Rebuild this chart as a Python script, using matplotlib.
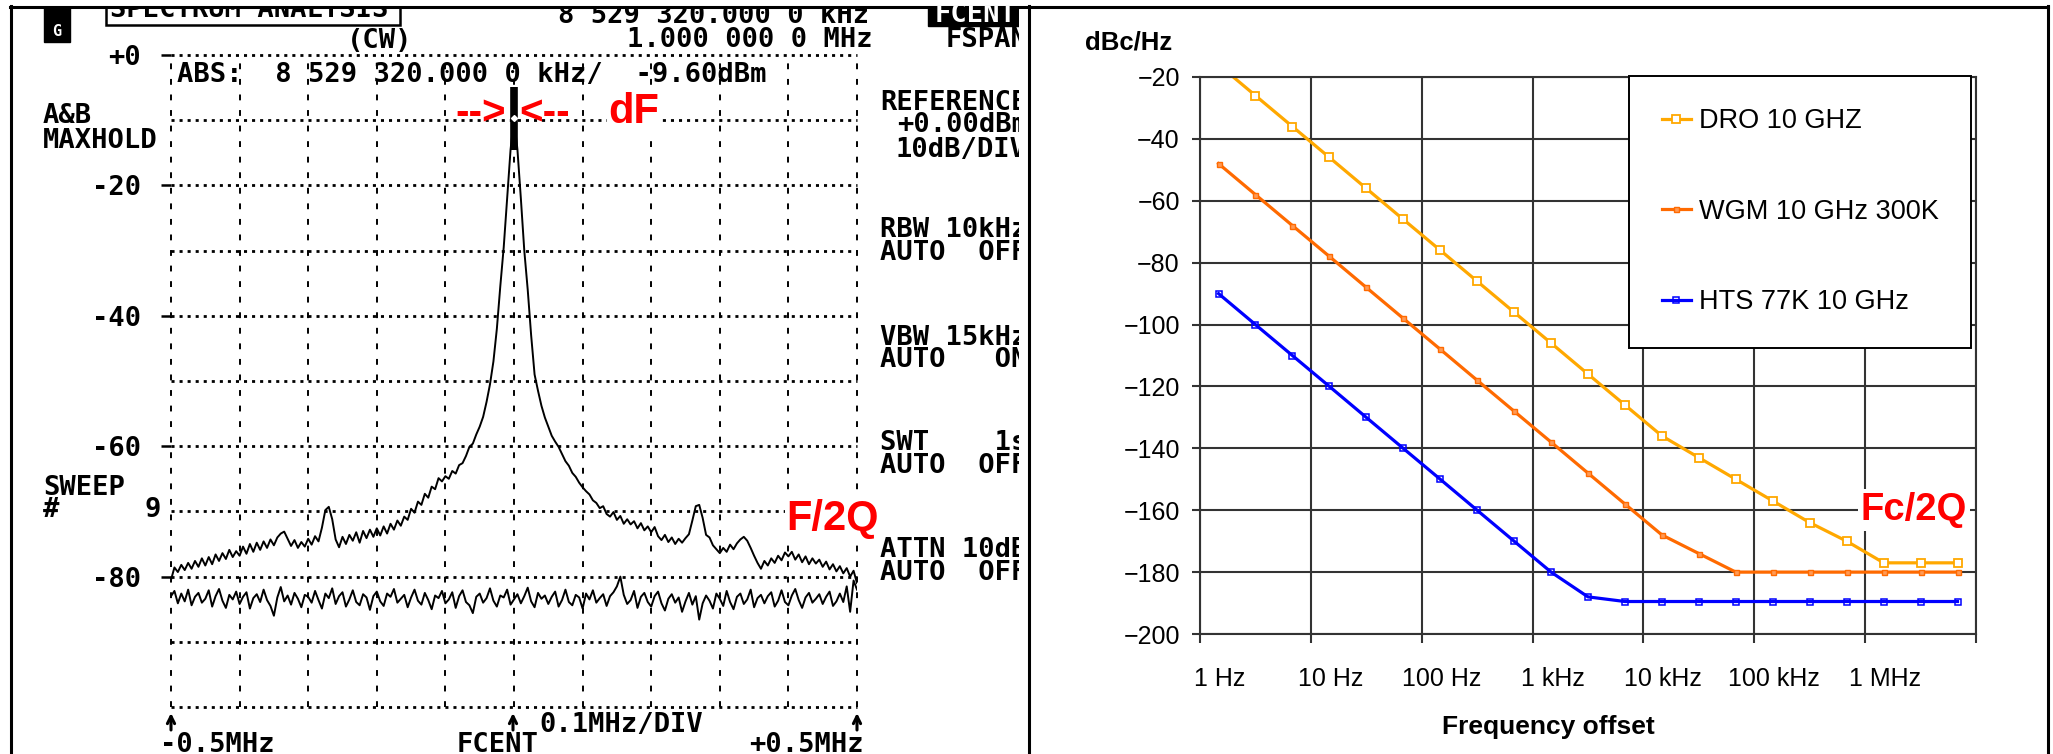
import matplotlib
matplotlib.use('Agg')
import matplotlib.pyplot as plt
import matplotlib.transforms as mtransforms
from matplotlib.lines import Line2D
from matplotlib.patches import Rectangle
from matplotlib.ticker import NullLocator
import numpy as np

W, H, DPI = 2053, 754, 100

# ---------------- left: spectrum analyser screen (5 kHz steps, -0.5 .. +0.5 MHz) ----------------
trace_ab = [
    -80.5, -78.6, -79.3, -78.2, -79.0, -77.9, -78.8, -77.6, -78.5, -77.2,
    -78.3, -77.0, -78.1, -76.6, -77.6, -76.4, -77.3, -75.9, -77.0, -76.1,
    -76.8, -75.4, -76.5, -75.0, -76.2, -74.8, -75.9, -74.6, -75.6, -74.3,
    -75.2, -74.0, -73.4, -73.1, -74.2, -75.3, -74.4, -75.6, -74.7, -75.4,
    -74.2, -75.1, -73.8, -74.6, -72.5, -69.8, -69.3, -71.2, -74.3, -75.5,
    -73.9, -75.0, -73.6, -74.5, -73.2, -74.8, -73.0, -74.1, -72.8, -73.9,
    -72.6, -73.7, -72.3, -73.4, -71.9, -72.8, -71.4, -72.2, -70.8, -71.3,
    -69.6, -70.2, -68.5, -69.0, -67.3, -67.9, -66.2, -66.6, -64.9, -65.4,
    -64.6, -65.0, -63.8, -64.2, -62.9, -62.6, -61.5, -60.1, -59.6, -58.2,
    -57.0, -55.5, -53.2, -50.5, -47.0, -42.0, -35.5, -29.5, -22.0, -14.5,
    -9.6,
    -14.5, -22.0, -30.0, -36.0, -43.0, -49.0, -51.5, -53.8, -55.6, -57.0,
    -58.4, -59.3, -60.1, -61.2, -62.3, -63.0, -64.1, -64.7, -65.6,
    -66.3, -66.9, -67.4, -68.3, -68.7, -69.5, -69.2, -70.4, -70.8, -70.1,
    -71.3, -70.7, -71.9, -71.2, -72.0, -71.5, -72.6, -71.8, -72.9, -72.3,
    -73.2, -72.4, -73.8, -74.4, -73.6, -74.7, -74.0, -75.0, -74.2, -74.8,
    -74.1, -73.5, -71.4, -69.2, -69.0, -71.0, -73.6, -74.0, -75.2, -75.8,
    -76.4, -75.6, -76.2, -75.1, -75.8, -74.9, -74.3, -73.9, -74.5, -75.6,
    -76.8, -77.9, -78.8, -77.6, -78.3, -77.2, -77.9, -76.8, -77.5, -76.3,
    -76.9, -76.2, -77.4, -76.6, -77.8, -76.9, -78.1, -77.2, -78.0, -77.4,
    -78.5, -77.7, -78.9, -78.1, -79.2, -78.4, -79.5, -78.7, -80.0, -79.1,
    -81.0,
]
trace_floor = [
    -83.0, -82.2, -84.1, -82.6, -83.8, -82.0, -84.4, -83.1, -82.5, -84.0,
    -83.4, -82.1, -84.6, -83.0, -81.9, -83.7, -84.8, -82.8, -83.5, -82.3,
    -84.2, -83.1, -82.4, -84.9, -83.3, -82.7, -83.9, -82.0, -83.6, -84.5,
    -86.0, -83.2, -81.6, -83.8, -82.9, -84.3, -82.5, -83.4, -84.7, -82.8,
    -83.1, -84.0, -82.2, -83.6, -84.9, -82.6, -83.3, -81.8, -84.2, -83.0,
    -82.4, -84.6, -83.5, -82.1, -83.9, -84.4, -82.7, -83.2, -85.1, -83.0,
    -82.3, -83.8, -84.5, -82.6, -83.1, -81.9, -84.0, -83.4, -82.8, -84.7,
    -83.2, -82.0, -83.7, -84.3, -82.5, -83.6, -85.0, -82.9, -83.3, -82.2,
    -84.1, -83.5, -82.4, -84.8, -83.0, -82.1, -83.9, -84.4, -85.6, -83.1,
    -82.6, -84.0, -83.3, -81.8, -83.7, -84.6, -82.9, -83.2, -82.0, -84.3,
    -83.5, -82.7, -84.1, -83.0, -81.7, -83.8, -84.7, -82.5, -83.4, -82.9,
    -84.2, -83.1, -82.3, -84.6, -83.6, -82.0, -83.9, -84.4, -82.8, -83.2,
    -84.9, -82.6, -83.5, -82.1, -84.0, -83.3, -82.7, -84.5, -83.0, -82.4,
    -81.5, -80.0, -82.8, -84.2, -83.6, -82.2, -84.8, -83.1, -82.5, -83.9,
    -84.6, -83.0, -82.3, -84.1, -85.2, -83.4, -82.7, -84.0, -83.2, -85.4,
    -83.8, -82.5, -84.3, -83.0, -86.6, -84.1, -82.9, -83.7, -84.9, -82.6,
    -83.4, -84.5, -82.2, -83.9, -85.0, -83.1, -82.6, -84.2, -83.5, -82.0,
    -84.7, -83.3, -82.8, -84.1, -83.0, -82.4, -84.6, -83.7, -82.1, -83.9,
    -84.4, -82.9, -81.9, -83.6, -84.8, -83.2, -82.5, -84.0, -83.4, -82.7,
    -84.2, -83.1, -82.3, -84.5, -83.8, -82.6, -83.9, -81.5, -85.4, -80.6,
    -82.0,
]
span = [-0.5, 0.5]
marker_offset = [0.0]
marker_level = [-9.60]
div_offsets = [-0.5, -0.4, -0.3, -0.2, -0.1, 0.0, 0.1, 0.2, 0.3, 0.4, 0.5]
level_grid = [0, -10, -20, -30, -40, -50, -60, -70, -80, -90, -100]
level_ticks = [0, -20, -40, -60, -80]
level_labels = ['+0', '-20', '-40', '-60', '-80']

# ---------------- right: phase noise vs offset ----------------
freq_hz = [1.47, 3.16, 6.81, 14.7, 31.6, 68.1, 147, 316, 681, 1470, 3160,
           6810, 14700, 31600, 68100, 147000, 316000, 681000, 1470000,
           3160000, 6810000]
dro = [-16, -26, -36, -46, -56, -66, -76, -86, -96, -106, -116,
       -126, -136, -143, -150, -157, -164, -170, -177, -177, -177]
wgm = [-48, -58, -68, -78, -88, -98, -108, -118, -128, -138, -148,
       -158, -168, -174, -180, -180, -180, -180, -180, -180, -180]
hts = [-90, -100, -110, -120, -130, -140, -150, -160, -170, -180, -188,
       -189.5, -189.5, -189.5, -189.5, -189.5, -189.5, -189.5, -189.5, -189.5, -189.5]
freq_ticks = [1, 10, 100, 1e3, 1e4, 1e5, 1e6, 1e7]
freq_labels = ['1 Hz', '10 Hz', '100 Hz', '1 kHz', '10 kHz', '100 kHz', '1 MHz', '']
db_ticks = list(range(-200, -19, 20))

plt.rcParams['font.family'] = ['Liberation Sans', 'DejaVu Sans']


def rect(x0, y0, x1, y1):
    return [x0 / W, 1 - y1 / H, (x1 - x0) / W, (y1 - y0) / H]


fig = plt.figure(figsize=(W / DPI, H / DPI), dpi=DPI)
fig.patch.set_facecolor('white')

MONO = dict(family='DejaVu Sans Mono', weight='bold', size=19.5)
RED = dict(family='Liberation Sans', weight='bold', color='#ff0000')

# spectrum grid + traces
sp = fig.add_axes(rect(171, 55, 857, 707))
sp.patch.set_visible(False)
sp.set_xlim(span)
sp.set_ylim(-100, 0)
for s in sp.spines.values():
    s.set_visible(False)
for v in div_offsets:
    sp.axvline(v, color='k', lw=1.4, ls=(0, (3.0, 5.0)), clip_on=False)
for lv in level_grid:
    sp.axhline(lv, color='k', lw=2.0, ls=(0, (1.1, 1.8)), clip_on=False)
sp.set_xticks([])
sp.set_yticks(level_ticks, labels=level_labels)
sp.tick_params(axis='y', length=7.5, width=1.8, pad=14, color='k')
for lbl in sp.get_yticklabels():
    lbl.set_fontfamily('DejaVu Sans Mono')
    lbl.set_fontweight('bold')
    lbl.set_fontsize(19.5)

offsets = np.linspace(span[0], span[1], len(trace_ab))
sp.plot(offsets, trace_ab, color='k', lw=1.4)
sp.plot(np.linspace(span[0], span[1], len(trace_floor)), trace_floor, color='k', lw=1.4)
sp.vlines(marker_offset, [m + 4.7 for m in marker_level], [m - 5.0 for m in marker_level],
          color='k', lw=5.5)
sp.plot(marker_offset, marker_level, ls='none', marker='D', ms=3, mfc='white', mec='white')

# text layer of the left screen, in pixel units
pan = fig.add_axes(rect(10, 6, 1019, 754))
pan.set_xlim(10, 1019)
pan.set_ylim(754, 6)
pan.axis('off')
pan.set_zorder(3)


def mono(x, y, s, **kw):
    d = dict(MONO)
    d.update(kw)
    pan.text(x, y, s, va=d.pop('va', 'baseline'), ha=d.pop('ha', 'left'), clip_on=True, **d)


pan.add_patch(Rectangle((44, 0), 26, 42, color='black'))
pan.text(57, 36, 'G', color='white', fontsize=11, fontweight='bold', ha='center',
         family='DejaVu Sans Mono')
pan.add_patch(Rectangle((106, 0), 294, 25, fill=False, ec='black', lw=1.8))
mono(110, 17, 'SPECTRUM ANALYSIS')
mono(347, 48, '(CW)')
mono(558, 23, '8 529 320.000 0 kHz')
mono(627, 47, '1.000 000 0 MHz')
pan.add_patch(Rectangle((928, 0), 100, 26, color='black'))
mono(935, 22, 'FCENT', color='white')
mono(946, 47, 'FSPAN')
mono(177, 82, 'ABS:  8 529 320.000 0 kHz/  -9.60dBm')
mono(43, 123, 'A&B')
mono(43, 148, 'MAXHOLD')
mono(880, 110, 'REFERENCE')
mono(897, 132, '+0.00dBm')
mono(895, 157, '10dB/DIV')
mono(880, 237, 'RBW 10kHz')
mono(880, 260, 'AUTO  OFF')
mono(880, 345, 'VBW 15kHz')
mono(880, 367, 'AUTO   ON')
mono(880, 450, 'SWT    1s')
mono(880, 473, 'AUTO  OFF')
mono(880, 557, 'ATTN 10dB')
mono(880, 580, 'AUTO  OFF')
mono(43, 495, 'SWEEP')
mono(43, 517, '#')
mono(145, 517, '9')
# start / centre / stop arrows under the screen
for ax_x in (171, 513, 857):
    pan.annotate('', xy=(ax_x, 713), xytext=(ax_x, 730),
                 arrowprops=dict(arrowstyle='->', lw=2.2, color='black',
                                 mutation_scale=13, shrinkA=0, shrinkB=0))
mono(539, 732, '0.1MHz/DIV')
mono(160, 752, '-0.5MHz')
mono(457, 752, 'FCENT')
mono(749, 752, '+0.5MHz')

wbox = dict(fc='white', ec='none', pad=1)
pan.text(455, 113, '-->', fontsize=29, va='center', ha='left', **RED)
pan.text(519, 113, '<--', fontsize=29, va='center', ha='left', **RED)
pan.text(608, 112, 'dF', fontsize=30, va='center', ha='left', bbox=wbox, **RED)
pan.text(786, 519, 'F/2Q', fontsize=30, va='center', ha='left', bbox=wbox, **RED)

# ---------------- right chart ----------------
GRID = '#333333'
ax = fig.add_axes(rect(1200, 77, 1976, 634))
ax.set_xscale('log')
ax.set_xlim(1, 1e7)
ax.set_ylim(-200, -20)
ax.set_yticks(db_ticks)
ax.set_xticks(freq_ticks, labels=freq_labels)
ax.xaxis.set_minor_locator(NullLocator())
ax.grid(True, color=GRID, lw=1.5)
ax.set_axisbelow(True)
for s in ax.spines.values():
    s.set_color(GRID)
    s.set_linewidth(1.5)
ax.tick_params(axis='both', direction='out', color=GRID, width=1.5, labelsize=18)
ax.tick_params(axis='x', length=6.5, pad=17)
ax.tick_params(axis='y', length=5.5, pad=9)
shift = mtransforms.ScaledTranslation(20 / DPI, 0, fig.dpi_scale_trans)
for lbl in ax.get_xticklabels():
    lbl.set_transform(lbl.get_transform() + shift)

ax.plot(freq_hz, dro, color='#ffa800', lw=2.3, marker='s', ms=5.5, mfc='white',
        mec='#ffa800', mew=1.3, label='DRO 10 GHZ')
ax.plot(freq_hz, wgm, color='#ff6a00', lw=2.3, marker='s', ms=3.6, mfc='#ff9a55',
        mec='#ff6a00', mew=1.0, label='WGM 10 GHz 300K')
ax.plot(freq_hz, hts, color='#0000ff', lw=2.3, marker='s', ms=4.6, mfc='none',
        mec='#0000ff', mew=1.1, label='HTS 77K 10 GHz')

leg = ax.legend(loc='upper left', bbox_to_anchor=(1629 / W, 1 - 76 / H),
                bbox_transform=fig.transFigure, fontsize=19.5, frameon=True,
                fancybox=False, framealpha=1, edgecolor='black', borderpad=1.2,
                labelspacing=2.38, handlelength=1.1, handletextpad=0.28,
                borderaxespad=0)
leg.get_frame().set_linewidth(1.4)

fig.text(1914 / W, 1 - 510 / H, 'Fc/2Q', fontsize=27.5, ha='center', va='center',
         bbox=dict(fc='white', ec='none', pad=2), **RED)
fig.text(1085 / W, 1 - 42 / H, 'dBc/Hz', fontsize=18.5, fontweight='bold',
         ha='left', va='center')
fig.text(1548 / W, 1 - 727 / H, 'Frequency offset', fontsize=19, fontweight='bold',
         ha='center', va='center')

# outer frame and divider
for xs, ys in [([10 / W, 2048 / W], [1 - 7 / H, 1 - 7 / H]),
               ([10.5 / W, 10.5 / W], [0, 1 - 6 / H]),
               ([1029 / W, 1029 / W], [0, 1 - 6 / H]),
               ([2047.5 / W, 2047.5 / W], [0, 1 - 6 / H])]:
    fig.add_artist(Line2D(xs, ys, color='black', lw=2.2, transform=fig.transFigure))

fig.savefig('out.png', dpi=DPI)
